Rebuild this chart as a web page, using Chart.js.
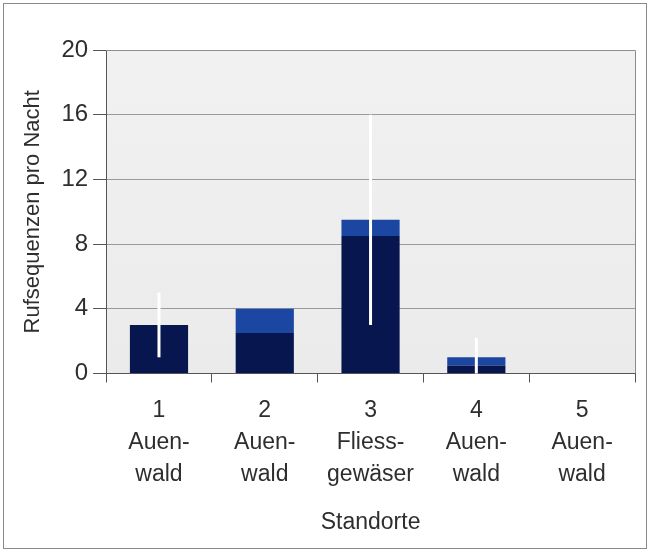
<!DOCTYPE html>
<html>
<head>
<meta charset="utf-8">
<script src="https://cdn.jsdelivr.net/npm/chart.js@4"></script>
<style>
  body { margin: 0; background: #fff; }
  #wrap { position: relative; width: 650px; height: 553px; }
  #frame { position: absolute; left: 3px; top: 3px; width: 642px; height: 544px; border: 1px solid #8a8a8a; pointer-events: none; }
  canvas { position: absolute; left: 0; top: 0; }
</style>
</head>
<body>
<div id="wrap">
  <canvas id="chart" width="650" height="553"></canvas>
  <div id="frame"></div>
</div>
<script>
// Data
const standorte = [
    ['1', 'Auen-', 'wald'],
    ['2', 'Auen-', 'wald'],
    ['3', 'Fliess-', 'gewäser'],
    ['4', 'Auen-', 'wald'],
    ['5', 'Auen-', 'wald']
];
const unterenTeil = [3, 2.5, 8.5, 0.5, 0];
const oberenTeil = [0, 1.5, 1, 0.5, 0];
const fehlerUnten = [1, null, 3, 0, null];
const fehlerOben = [5, null, 16, 2.2, null];
const yTicks = [0, 4, 8, 12, 16, 20];

const textColor = '#2e2e2e';
const fontFamily = "'Liberation Sans', Arial, sans-serif";

// plot background + box
const plotBackground = {
    id: 'plotBackground',
    beforeDraw(chart) {
        const { ctx, chartArea: a } = chart;
        const g = ctx.createLinearGradient(0, a.top, 0, a.bottom);
        g.addColorStop(0, '#f1f1f1');
        g.addColorStop(1, '#ebebeb');
        ctx.save();
        ctx.fillStyle = g;
        ctx.fillRect(a.left, a.top, a.right - a.left, a.bottom - a.top);
        ctx.restore();
    },
    afterDraw(chart) {
        const { ctx, chartArea: a } = chart;
        ctx.save();
        ctx.strokeStyle = '#8c8c8c';
        ctx.lineWidth = 1;
        ctx.beginPath();
        ctx.moveTo(a.left, a.top + 0.5);
        ctx.lineTo(a.right + 0.5, a.top + 0.5);
        ctx.lineTo(a.right + 0.5, a.bottom);
        ctx.stroke();
        ctx.restore();
    }
};

// white error lines drawn on top of the bars
const errorLines = {
    id: 'errorLines',
    afterDatasetsDraw(chart) {
        const { ctx, scales: { x, y } } = chart;
        ctx.save();
        ctx.strokeStyle = '#ffffff';
        ctx.lineWidth = 3;
        fehlerUnten.forEach((lo, i) => {
            if (lo === null) return;
            const px = x.getPixelForValue(i);
            ctx.beginPath();
            ctx.moveTo(px, y.getPixelForValue(fehlerOben[i]));
            ctx.lineTo(px, y.getPixelForValue(lo));
            ctx.stroke();
        });
        ctx.restore();
    }
};

new Chart(document.getElementById('chart'), {
    type: 'bar',
    data: {
        labels: standorte,
        datasets: [
            { data: unterenTeil, backgroundColor: '#08164f' },
            { data: oberenTeil, backgroundColor: '#1b46a2' }
        ]
    },
    options: {
        responsive: false,
        animation: false,
        events: [],
        layout: { padding: { top: 50, right: 15, bottom: 13, left: 16 } },
        datasets: { bar: { categoryPercentage: 1, barPercentage: 0.55 } },
        plugins: { legend: { display: false }, tooltip: { enabled: false } },
        scales: {
            x: {
                stacked: true,
                grid: { drawOnChartArea: false, drawTicks: true, tickLength: 9, color: '#555', offset: true },
                border: { color: '#555' },
                ticks: { color: textColor, padding: 12, font: { family: fontFamily, size: 23, lineHeight: 1.39 }, maxRotation: 0 },
                title: { display: true, text: 'Standorte', color: textColor, font: { family: fontFamily, size: 23 }, padding: { top: 6 } }
            },
            y: {
                stacked: true,
                min: 0,
                max: 20,
                afterBuildTicks(axis) { axis.ticks = yTicks.map(v => ({ value: v })); },
                grid: { color: '#9a9a9a', tickLength: 13, tickColor: '#555' },
                border: { color: '#555' },
                ticks: { color: textColor, padding: 5, font: { family: fontFamily, size: 24 } },
                title: { display: true, text: 'Rufsequenzen pro Nacht', color: textColor, font: { family: fontFamily, size: 22 }, padding: { bottom: 10 } }
            }
        }
    },
    plugins: [plotBackground, errorLines]
});
</script>
</body>
</html>
